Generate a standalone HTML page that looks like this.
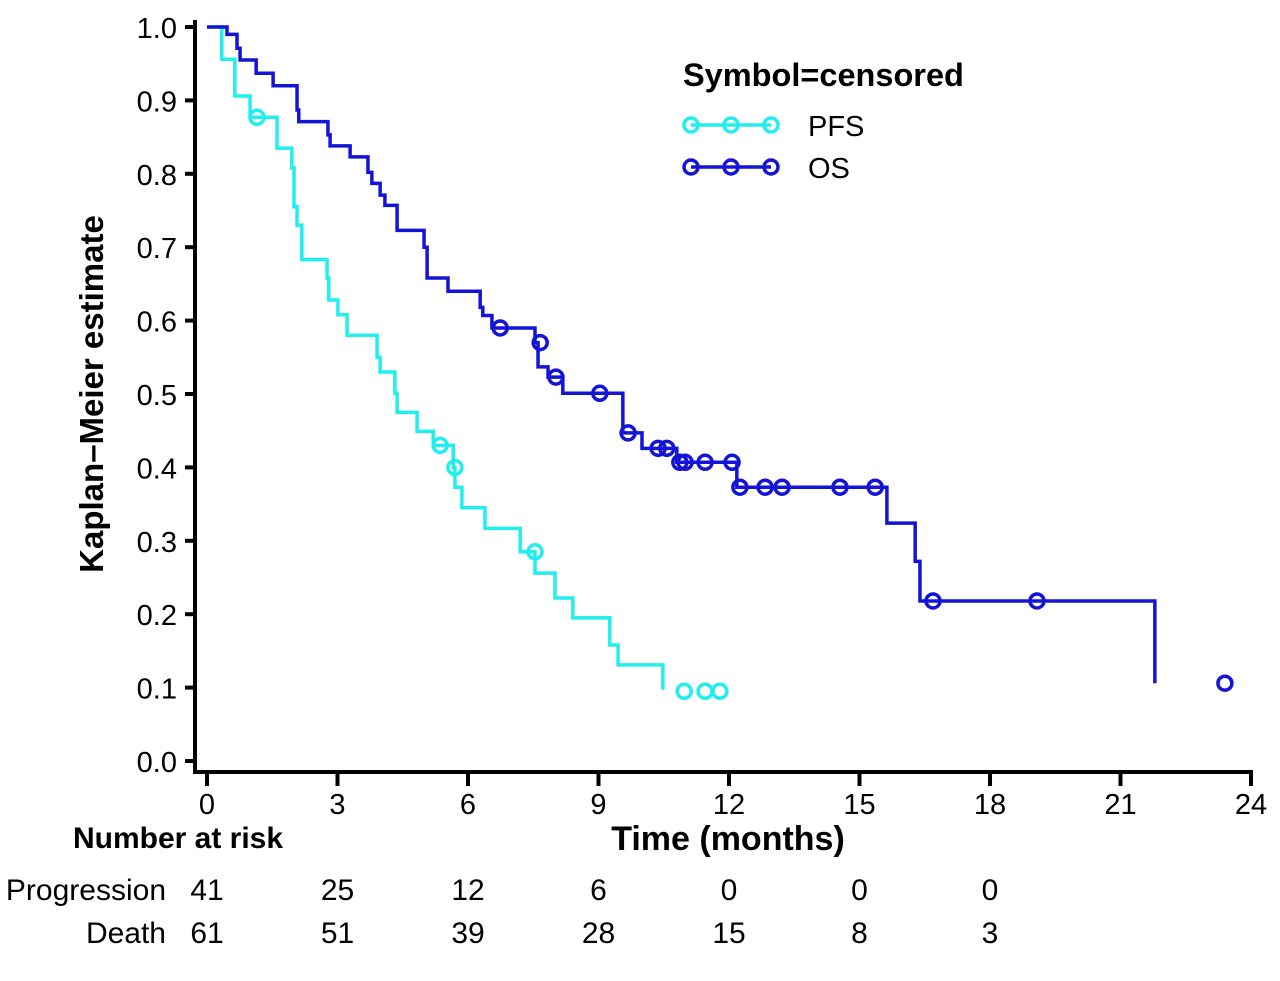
<!DOCTYPE html>
<html><head><meta charset="utf-8"><style>
html,body{margin:0;padding:0;background:#fff;}
svg{display:block;font-family:"Liberation Sans",sans-serif;}
</style></head><body>
<svg id="chart" width="1280" height="981" viewBox="0 0 1280 981" xmlns="http://www.w3.org/2000/svg"></svg>
<script>
const xTicks = [0,3,6,9,12,15,18,21,24];
const yTicks = [0,0.1,0.2,0.3,0.4,0.5,0.6,0.7,0.8,0.9,1.0];
const pfsTimes = [0,0.34,0.64,0.99,1.61,1.95,2.0,2.07,2.18,2.76,2.80,3.01,3.22,3.91,3.98,4.32,4.37,4.83,5.2,5.66,5.7,5.86,6.39,7.2,7.54,8.0,8.41,9.26,9.45,10.48];
const pfsValues = [1.0,0.956,0.906,0.877,0.835,0.808,0.755,0.73,0.683,0.658,0.628,0.608,0.58,0.55,0.53,0.501,0.475,0.449,0.43,0.40,0.373,0.345,0.317,0.285,0.256,0.222,0.195,0.158,0.131,0.097];
const pfsCensorTimes = [1.15,5.36,5.7,7.54,10.97,11.45,11.79];
const pfsCensorValues = [0.877,0.43,0.40,0.285,0.095,0.095,0.095];
const osTimes = [0,0.46,0.69,0.76,1.13,1.52,2.07,2.11,2.78,2.83,3.29,3.70,3.79,3.98,4.09,4.37,4.99,5.06,5.54,6.28,6.34,6.55,7.54,7.61,7.84,8.18,9.56,10.0,10.8,12.18,15.63,16.28,16.39,21.79];
const osValues = [1.0,0.99,0.971,0.955,0.937,0.92,0.887,0.871,0.853,0.838,0.823,0.802,0.787,0.771,0.757,0.723,0.70,0.658,0.64,0.618,0.607,0.59,0.57,0.537,0.523,0.501,0.447,0.426,0.407,0.373,0.324,0.272,0.218,0.106];
const osCensorTimes = [6.74,7.66,8.02,9.03,9.68,10.37,10.57,10.87,10.99,11.45,12.07,12.25,12.83,13.22,14.55,15.36,16.69,19.08,23.4];
const osCensorValues = [0.59,0.57,0.523,0.501,0.447,0.426,0.426,0.407,0.407,0.407,0.407,0.373,0.373,0.373,0.373,0.373,0.218,0.218,0.106];
const riskTimes = [0,3,6,9,12,15,18];
const riskProgression = [41,25,12,6,0,0,0];
const riskDeath = [61,51,39,28,15,8,3];

const NS="http://www.w3.org/2000/svg";
const svg=document.getElementById('chart');
const X=t=>207+t*(1251-207)/24;
const Y=v=>761-v*734;
function mk(tag,attrs,parent){const e=document.createElementNS(NS,tag);for(const k in attrs)e.setAttribute(k,attrs[k]);(parent||svg).appendChild(e);return e;}
function txt(s,x,y,size,anchor,weight){const e=mk('text',{x:x,y:y,'font-size':size,'text-anchor':anchor||'middle','font-weight':weight||'normal',fill:'#000'});e.textContent=s;return e;}

let a=mk('line',{x1:195,y1:20,x2:195,y2:773,stroke:'#000','stroke-width':4});


a=mk('line',{x1:193,y1:772,x2:1253,y2:772,stroke:'#000','stroke-width':4});


yTicks.forEach(v=>{
  const l=mk('line',{x1:185,y1:Y(v),x2:195,y2:Y(v),stroke:'#000','stroke-width':4});
  
  
  const t=txt(v.toFixed(1),177,Y(v)+11,29,'end');
  
  
});
xTicks.forEach(v=>{
  const l=mk('line',{x1:X(v),y1:772,x2:X(v),y2:786,stroke:'#000','stroke-width':4});
  
  
  const t=txt(String(v),X(v),814,29);
  
  
});
let t=txt('Kaplan–Meier estimate',0,0,33,'middle','bold');
t.setAttribute('transform','translate(103,394) rotate(-90)');


t=txt('Time (months)',728,850,34,'middle','bold');


t=txt('Number at risk',178,848,30,'middle','bold');


t=txt('Progression',166,900,30,'end');


t=txt('Death',166,943,30,'end');


riskTimes.forEach((tm,i)=>{
  let e=txt(String(riskProgression[i]),X(tm),900,30);
  
  
  e=txt(String(riskDeath[i]),X(tm),943,30);
  
  
});

function stepPath(times,vals){
  let d='M'+X(times[0])+' '+Y(vals[0]);
  for(let i=1;i<times.length;i++){d+=' H'+X(times[i])+' V'+Y(vals[i]);}
  return d;
}
function series(times,vals,ct,cv,color,name){
  const p=mk('path',{d:stepPath(times,vals),fill:'none',stroke:color,'stroke-width':3.5});
  
  
  ct.forEach((tm,i)=>{
    const c=mk('circle',{cx:X(tm),cy:Y(cv[i]),r:7,fill:'none',stroke:color,'stroke-width':3.5});
    
    
  });
}
series(pfsTimes,pfsValues,pfsCensorTimes,pfsCensorValues,'#22eeee','pfs');
series(osTimes,osValues,osCensorTimes,osCensorValues,'#1414d6','os');

t=txt('Symbol=censored',683,86,32.5,'start','bold');


[['PFS','#22eeee',125],['OS','#1414d6',167]].forEach(([lab,col,y])=>{
  const g=mk('g',{});
  
  
  mk('line',{x1:691,y1:y,x2:771,y2:y,stroke:col,'stroke-width':3.5},g);
  [691,731,771].forEach(cx=>mk('circle',{cx:cx,cy:y,r:7,fill:'none',stroke:col,'stroke-width':3.5},g));
  const e=mk('text',{x:808,y:y+11,'font-size':29,fill:'#000'},g);
  e.textContent=lab;
});
</script>
</body></html>
